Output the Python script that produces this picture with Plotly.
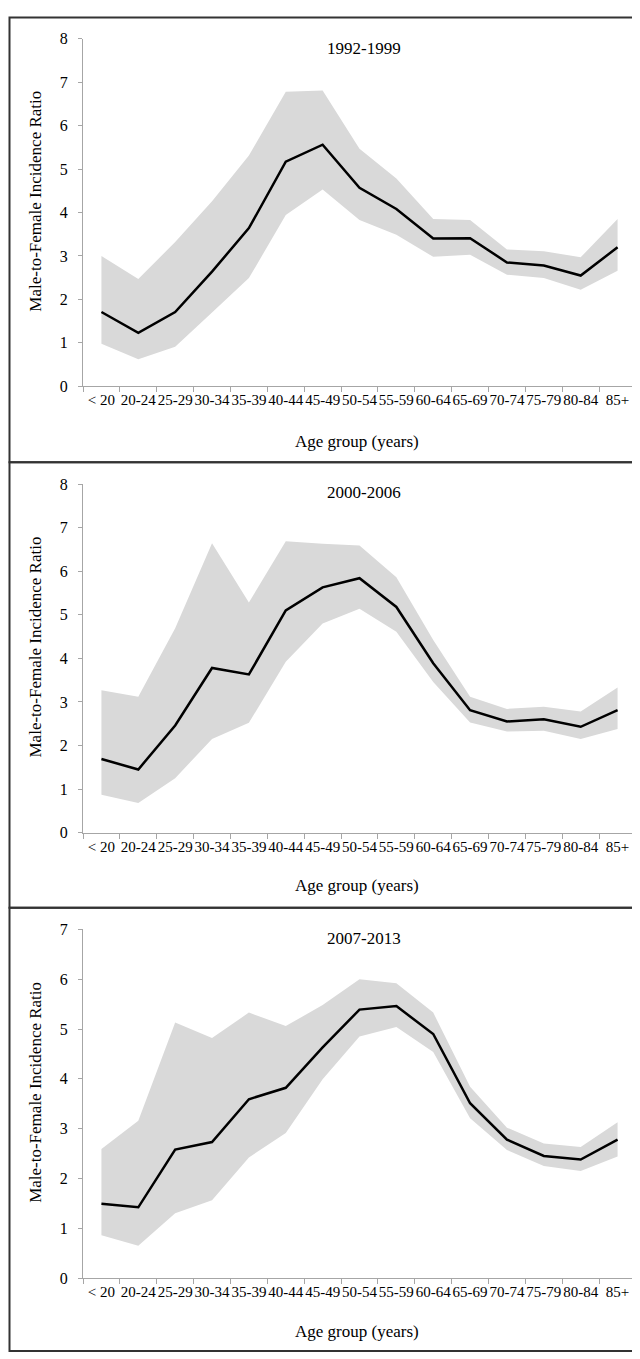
import plotly.graph_objects as go

age_groups = ["< 20", "20-24", "25-29", "30-34", "35-39", "40-44", "45-49", "50-54",
              "55-59", "60-64", "65-69", "70-74", "75-79", "80-84", "85+"]

period_titles = ["1992-1999", "2000-2006", "2007-2013"]

ratio_1992 = [1.71, 1.23, 1.71, 2.64, 3.64, 5.17, 5.56, 4.57, 4.08, 3.40, 3.41, 2.85, 2.78, 2.55, 3.20]
upper_1992 = [3.00, 2.47, 3.32, 4.26, 5.31, 6.78, 6.81, 5.47, 4.78, 3.85, 3.83, 3.15, 3.11, 2.97, 3.85]
lower_1992 = [0.98, 0.62, 0.91, 1.70, 2.49, 3.94, 4.53, 3.83, 3.49, 2.98, 3.03, 2.57, 2.49, 2.22, 2.66]

ratio_2000 = [1.69, 1.45, 2.46, 3.78, 3.63, 5.10, 5.63, 5.84, 5.18, 3.89, 2.81, 2.55, 2.60, 2.43, 2.81]
upper_2000 = [3.27, 3.12, 4.69, 6.64, 5.28, 6.69, 6.63, 6.59, 5.86, 4.42, 3.12, 2.84, 2.89, 2.78, 3.33]
lower_2000 = [0.87, 0.68, 1.25, 2.15, 2.52, 3.92, 4.80, 5.14, 4.61, 3.46, 2.53, 2.32, 2.34, 2.15, 2.38]

ratio_2007 = [1.49, 1.42, 2.58, 2.73, 3.59, 3.82, 4.63, 5.39, 5.46, 4.90, 3.51, 2.78, 2.45, 2.38, 2.78]
upper_2007 = [2.59, 3.16, 5.13, 4.82, 5.33, 5.06, 5.48, 6.00, 5.92, 5.33, 3.84, 3.02, 2.70, 2.63, 3.13]
lower_2007 = [0.86, 0.65, 1.30, 1.56, 2.42, 2.91, 3.99, 4.85, 5.04, 4.54, 3.21, 2.57, 2.25, 2.15, 2.44]

y_max = [8, 8, 7]

W, H = 640, 1359
FONT = "Liberation Serif"

# pixel layout of each panel: (plot top, plot bottom, frame top, frame bottom, title y, xtitle y)
panels = [
    dict(top=23, bottom=375, ftop=1.5, fbot=452, ty=33, xty=431),
    dict(top=474, bottom=827, ftop=452, fbot=903, ty=483, xty=881),
    dict(top=925, bottom=1278, ftop=903, fbot=1352, ty=934, xty=1332),
]
x_left, x_right = 75, 628

series = [(ratio_1992, upper_1992, lower_1992),
          (ratio_2000, upper_2000, lower_2000),
          (ratio_2007, upper_2007, lower_2007)]

fig = go.Figure()
layout = dict(width=W, height=H, margin=dict(l=0, r=0, t=0, b=0),
              paper_bgcolor="white", plot_bgcolor="white", showlegend=False,
              font=dict(family=FONT, color="#000000"))
annotations = []
shapes = []

def py(px):
    return 1 - px / H

for i, (ratio, up, lo) in enumerate(series):
    n = i + 1
    xa = "x" if n == 1 else f"x{n}"
    ya = "y" if n == 1 else f"y{n}"
    p = panels[i]
    fig.add_trace(go.Scatter(
        x=age_groups + age_groups[::-1], y=up + lo[::-1],
        fill="toself", fillcolor="#d9d9d9", line=dict(width=0),
        mode="lines", xaxis=xa, yaxis=ya, hoverinfo="skip"))
    fig.add_trace(go.Scatter(
        x=age_groups, y=ratio, mode="lines",
        line=dict(color="#000000", width=2.5), xaxis=xa, yaxis=ya))

    xkey = "xaxis" if n == 1 else f"xaxis{n}"
    ykey = "yaxis" if n == 1 else f"yaxis{n}"
    layout[xkey] = dict(
        domain=[x_left / W, x_right / W], anchor=ya, type="category",
        categoryorder="array", categoryarray=age_groups,
        range=[-0.5, len(age_groups) - 0.5],
        showline=True, linecolor="#a6a6a6", linewidth=1,
        ticks="outside", tickson="boundaries", ticklen=5, tickcolor="#a6a6a6",
        showgrid=False, zeroline=False,
        tickfont=dict(family=FONT, size=15, color="#000000"), tickangle=0)
    layout[ykey] = dict(
        domain=[py(p["bottom"]), py(p["top"])], anchor=xa,
        range=[0, y_max[i]], dtick=1, tick0=0,
        showline=True, linecolor="#a6a6a6", linewidth=1,
        ticks="outside", ticklen=4, tickcolor="#a6a6a6",
        ticklabelstandoff=7,
        showgrid=False, zeroline=False,
        tickfont=dict(family=FONT, size=16, color="#000000"))

    annotations.append(dict(text=period_titles[i], xref="paper", yref="paper",
                            x=356 / W, y=py(p["ty"]), xanchor="center", yanchor="middle",
                            showarrow=False, font=dict(family=FONT, size=17)))
    annotations.append(dict(text="Age group (years)", xref="paper", yref="paper",
                            x=349 / W, y=py(p["xty"]), xanchor="center", yanchor="middle",
                            showarrow=False, font=dict(family=FONT, size=17)))
    annotations.append(dict(text="Male-to-Female Incidence Ratio", xref="paper", yref="paper",
                            x=28 / W, y=py((p["top"] + p["bottom"]) / 2 - 11),
                            xanchor="center", yanchor="middle", textangle=-90,
                            showarrow=False, font=dict(family=FONT, size=17)))
    shapes.append(dict(type="rect", xref="paper", yref="paper",
                       x0=1.5 / W, x1=633 / W, y0=py(p["fbot"]), y1=py(p["ftop"]),
                       line=dict(color="#333333", width=2), fillcolor="rgba(0,0,0,0)"))

layout["annotations"] = annotations
layout["shapes"] = shapes
fig.update_layout(**layout)

fig.write_html("out.html")
